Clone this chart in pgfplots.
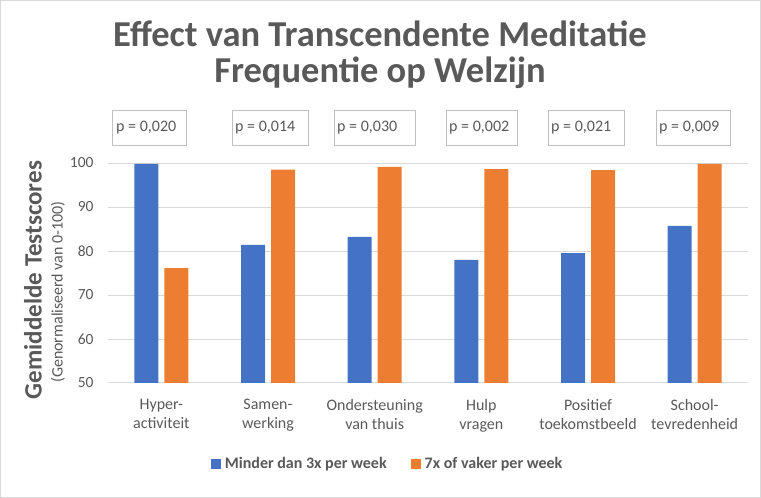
\documentclass[border=0pt]{standalone}
\usepackage{pgfplots}
\pgfplotsset{compat=1.18}
\usepackage{fontspec}
\setmainfont{Carlito}
\definecolor{cblue}{HTML}{4472C4}
\definecolor{corange}{HTML}{ED7D31}
\definecolor{txt}{HTML}{595959}
\definecolor{gridc}{HTML}{D9D9D9}
\definecolor{boxc}{HTML}{BFBFBF}
\begin{document}
\begin{tikzpicture}[x=1pt,y=1pt]
\useasboundingbox (0,0) rectangle (761,498);
\draw[color=gridc, line width=1pt] (0.5,0.5) rectangle (760.5,497.5);
\node[text=txt, font=\fontsize{36.5}{38}\selectfont\bfseries, anchor=base] at (380,451.5) {Effect van Transcendente Meditatie};
\node[text=txt, font=\fontsize{36.5}{38}\selectfont\bfseries, anchor=base] at (380,415) {Frequentie op Welzijn};
\begin{axis}[
  at={(108pt,115pt)}, anchor=south west,
  scale only axis, width=640pt, height=220pt,
  xmin=-0.5, xmax=5.5, ymin=50, ymax=100,
  ybar, bar width=24pt,
  axis line style={draw=none}, major tick length=0pt,
  ymajorgrids, grid style={color=gridc, line width=1pt},
  ytick={50,60,...,100}, xtick={0,...,5},
  xticklabels={{Hyper-\\activiteit},{Samen-\\werking},{Ondersteuning\\van thuis},{Hulp\\vragen},{Positief\\toekomstbeeld},{School-\\tevredenheid}},
  xticklabel style={align=center, font=\fontsize{16}{19}\selectfont, text=txt, yshift=-13pt},
  yticklabel style={font=\fontsize{15.5}{18}\selectfont, text=txt, xshift=-11pt},
  /pgf/number format/assume math mode=true,
  legend style={at={(0.437,-0.368)}, anchor=center, draw=none, legend columns=2,
    font=\fontsize{16}{19}\selectfont\bfseries, text=txt,
    /tikz/every odd column/.append style={column sep=2pt},
    /tikz/every even column/.append style={column sep=22pt}},
]
\addplot[fill=cblue, draw=none, bar shift=-15pt,
  legend image code/.code={\fill[cblue] (0pt,-5pt) rectangle (10pt,5pt);}]
  coordinates {(0,99.8) (1,81.4) (2,83.2) (3,78.0) (4,79.5) (5,85.7)};
\addplot[fill=corange, draw=none, bar shift=15pt,
  legend image code/.code={\fill[corange] (0pt,-5pt) rectangle (10pt,5pt);}]
  coordinates {(0,76.1) (1,98.5) (2,99.1) (3,98.6) (4,98.4) (5,99.8)};
\legend{Minder dan 3x per week, 7x of vaker per week}
\end{axis}
\begin{scope}[every node/.style={inner sep=0pt, text=txt, font=\fontsize{16}{19}\selectfont, anchor=west}]
\draw[boxc, line width=0.8pt] (112,353) rectangle (186,388);
\node at (116,370.5) {p = 0,020};
\draw[boxc, line width=0.8pt] (232,353) rectangle (308,388);
\node at (235,370.5) {p = 0,014};
\draw[boxc, line width=0.8pt] (334,353) rectangle (415,388);
\node at (337,370.5) {p = 0,030};
\draw[boxc, line width=0.8pt] (446,353) rectangle (517,388);
\node at (449,370.5) {p = 0,002};
\draw[boxc, line width=0.8pt] (548,353) rectangle (624,388);
\node at (551,370.5) {p = 0,021};
\draw[boxc, line width=0.8pt] (656,353) rectangle (730,388);
\node at (659,370.5) {p = 0,009};
\end{scope}
\node[rotate=90, text=txt, font=\fontsize{25}{29}\selectfont\bfseries] at (33,218) {Gemiddelde Testscores};
\node[rotate=90, text=txt, font=\fontsize{16}{19}\selectfont] at (58,206) {(Genormaliseerd van 0-100)};
\end{tikzpicture}
\end{document}
